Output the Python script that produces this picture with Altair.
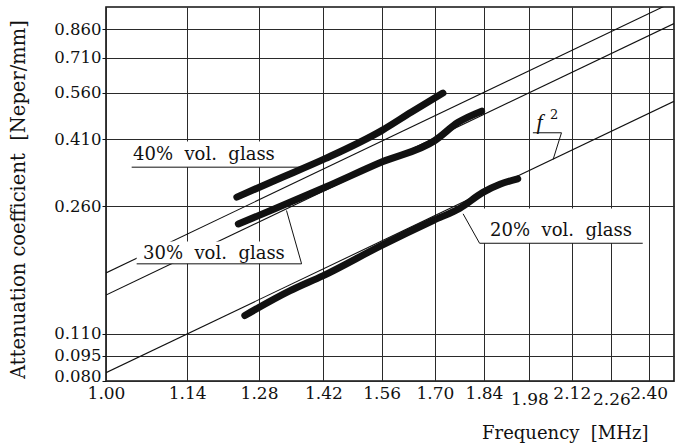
import altair as alt
import pandas as pd

FONT = "DejaVu Serif"
INK = "#111111"
SP = "\u00a0"

# axis ticks
freq_ticks = [1.00, 1.14, 1.28, 1.42, 1.56, 1.70, 1.84, 1.98, 2.12, 2.26, 2.40]
att_ticks = [0.080, 0.095, 0.110, 0.260, 0.410, 0.560, 0.710, 0.860]

# measured curves (thick)
f40 = [1.235, 1.313, 1.424, 1.560, 1.637, 1.722]
a40 = [0.277, 0.310, 0.359, 0.434, 0.492, 0.559]
f30 = [1.238, 1.313, 1.424, 1.560, 1.700, 1.765, 1.833]
a30 = [0.231, 0.256, 0.296, 0.351, 0.406, 0.459, 0.495]
f20 = [1.251, 1.345, 1.420, 1.560, 1.695, 1.770, 1.837, 1.888, 1.943]
a20 = [0.1245, 0.147, 0.163, 0.200, 0.2365, 0.257, 0.286, 0.302, 0.3135]

# f^2 reference lines (end points)
ref_f = [1.0, 2.5]
refA = [0.166, 1.0375]
refB = [0.143, 0.894]
refC = [0.0846, 0.529]

# annotations
ann_text = [f"40%{SP}{SP}vol.{SP}{SP}glass", f"30%{SP}{SP}vol.{SP}{SP}glass", f"20%{SP}{SP}vol.{SP}{SP}glass"]
ann_f = [1.0445, 1.0615, 1.858]
ann_v = [0.3565, 0.1825, 0.2137]
box_f1 = [1.0423, 1.0507, 1.827]
box_f2 = [1.374, 1.371, 2.377]
box_v1 = [0.339, 0.1765, 0.2028]
box_v2 = [0.4032, 0.2052, 0.2564]
seg_f1 = [1.0423, 1.0507, 1.371, 1.827, 1.827, 1.991, 2.085]
seg_v1 = [0.339, 0.1765, 0.1765, 0.2028, 0.2028, 0.4277, 0.4277]
seg_f2 = [1.374, 1.371, 1.338, 2.377, 1.779, 2.085, 2.057]
seg_v2 = [0.339, 0.1765, 0.253, 0.2028, 0.2474, 0.4277, 0.357]
flab_f = [2.003]
flab_v = [0.4373]
sup_f = [2.047]
sup_v = [0.4700]

curves = pd.DataFrame({
    "f": f40 + f30 + f20,
    "v": a40 + a30 + a20,
    "s": ["40"] * len(f40) + ["30"] * len(f30) + ["20"] * len(f20),
})
refs = pd.DataFrame({
    "f": ref_f * 3,
    "v": refA + refB + refC,
    "s": ["A", "A", "B", "B", "C", "C"],
})
boxes = pd.DataFrame({"f": box_f1, "f2": box_f2, "v": box_v1, "v2": box_v2})
segs = pd.DataFrame({"f": seg_f1, "v": seg_v1, "f2": seg_f2, "v2": seg_v2})
texts = pd.DataFrame({"f": ann_f, "v": ann_v, "t": ann_text})
flab = pd.DataFrame({"f": flab_f, "v": flab_v, "t": ["f"]})
sup = pd.DataFrame({"f": sup_f, "v": sup_v, "t": ["2"]})

xs = alt.Scale(type="log", domain=[1.0, 2.5], nice=False)
ys = alt.Scale(type="log", domain=[0.08, 1.0], nice=False)

xaxis = alt.Axis(
    values=freq_ticks, format=".2f", title=f"Frequency{SP}{SP}[MHz]",
    grid=True, gridColor="#2a2a2a", gridWidth=1, domain=False, ticks=False,
    labelFont=FONT, labelFontSize=17, labelColor=INK, labelPadding=4,
    labelFlush=False, labelOverlap=False, labelLineHeight=6,
    labelExpr="(datum.value == 1.98 || datum.value == 2.26) ? ['', datum.label] : datum.label",
    titleFont=FONT, titleFontSize=18, titleFontWeight="normal", titleColor=INK,
    titleAlign="right", titleBaseline="alphabetic", titleX=542, titleY=57,
)
yaxis = alt.Axis(
    values=att_ticks, format=".3f", title=f"Attenuation{SP}coefficient{SP}{SP}[Neper/mm]",
    grid=True, gridColor="#2a2a2a", gridWidth=1, domain=False,
    ticks=True, tickSize=4, tickColor=INK,
    labelFont=FONT, labelFontSize=16.5, labelColor=INK, labelPadding=1,
    labelFlush=True, labelFlushOffset=3, labelOverlap=False,
    titleFont=FONT, titleFontSize=19.5, titleFontWeight="normal", titleColor=INK,
    titleAngle=-90, titleAlign="center", titleBaseline="middle", titleX=-88, titleY=192,
)

X = alt.X("f:Q", scale=xs, axis=xaxis)
Y = alt.Y("v:Q", scale=ys, axis=yaxis)

ref_layer = alt.Chart(refs).mark_line(color=INK, strokeWidth=1.1, clip=True).encode(
    x=X, y=Y, detail="s:N")
box_layer = alt.Chart(boxes).mark_rect(color="white").encode(
    x=X, x2="f2:Q", y=Y, y2="v2:Q")
curve_layer = alt.Chart(curves).mark_line(
    color=INK, strokeWidth=7, strokeCap="round", strokeJoin="round", interpolate="monotone"
).encode(x=X, y=Y, detail="s:N")
seg_layer = alt.Chart(segs).mark_rule(color=INK, strokeWidth=1).encode(
    x=X, x2="f2:Q", y=Y, y2="v2:Q")
text_layer = alt.Chart(texts).mark_text(
    font=FONT, fontSize=18, align="left", baseline="alphabetic", color=INK
).encode(x=X, y=Y, text="t:N")
f_layer = alt.Chart(flab).mark_text(
    font="Liberation Serif", fontSize=22, fontStyle="italic", align="left",
    baseline="alphabetic", color=INK
).encode(x=X, y=Y, text="t:N")
sup_layer = alt.Chart(sup).mark_text(
    font=FONT, fontSize=13, align="left", baseline="alphabetic", color=INK
).encode(x=X, y=Y, text="t:N")

chart = alt.layer(
    ref_layer, box_layer, curve_layer, seg_layer, text_layer, f_layer, sup_layer
).properties(
    width=568, height=374,
    padding={"left": 106, "top": 7, "right": 10, "bottom": 67},
    autosize="none",
    background="white",
).configure_view(stroke=INK, strokeWidth=1.6)

chart.save("out.html", embed_options={"renderer": "svg", "actions": False})
